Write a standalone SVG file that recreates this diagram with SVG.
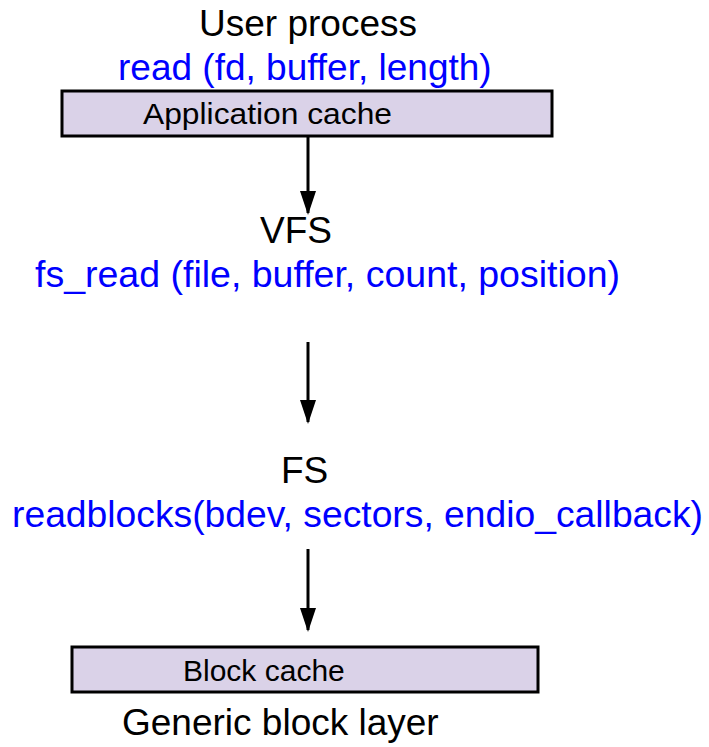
<svg xmlns="http://www.w3.org/2000/svg" width="709" height="747" viewBox="0 0 709 747">
  <defs>
    <style>
      .t { font-family: "Liberation Sans", Arial, sans-serif; font-size: 37px; fill: #000; }
      .b { fill: #0000ff; }
      .box { fill: #dad2e8; stroke: #000; stroke-width: 3; }
      .bt { font-family: "Liberation Sans", Arial, sans-serif; font-size: 30px; fill: #000; }
      .conn { stroke: #000; stroke-width: 3; fill: none; marker-end: url(#arr); }
    </style>
    <marker id="arr" viewBox="0 0 24 16" refX="22" refY="8" markerWidth="24" markerHeight="16" markerUnits="userSpaceOnUse" orient="auto">
      <path d="M0,0 L24,8 L0,16 Z" fill="#000"/>
    </marker>
  </defs>
  <rect width="709" height="747" fill="#fff"/>
  <g id="user-process">
    <text class="t" x="199" y="36">User process</text>
    <text class="t b" x="118" y="80">read (fd, buffer, length)</text>
  </g>
  <g id="application-cache">
    <rect class="box" x="62" y="91" width="490" height="45"/>
    <text class="bt" x="143" y="124" textLength="249" lengthAdjust="spacingAndGlyphs">Application cache</text>
  </g>
  <g id="vfs">
    <text class="t" x="260" y="243">VFS</text>
    <text class="t b" x="35" y="287" textLength="585" lengthAdjust="spacingAndGlyphs">fs_read (file, buffer, count, position)</text>
  </g>
  <g id="fs">
    <text class="t" x="281" y="483">FS</text>
    <text class="t b" x="12" y="527" textLength="691" lengthAdjust="spacingAndGlyphs">readblocks(bdev, sectors, endio_callback)</text>
  </g>
  <g id="block-cache">
    <rect class="box" x="72" y="647" width="466" height="45"/>
    <text class="bt" x="183" y="681">Block cache</text>
  </g>
  <g id="generic-block-layer">
    <text class="t" x="122" y="735">Generic block layer</text>
  </g>
  <g id="connectors">
    <line class="conn" x1="308" y1="137" x2="308" y2="213"/>
    <line class="conn" x1="308" y1="342" x2="308" y2="422"/>
    <line class="conn" x1="308" y1="549" x2="308" y2="630"/>
  </g>
</svg>
